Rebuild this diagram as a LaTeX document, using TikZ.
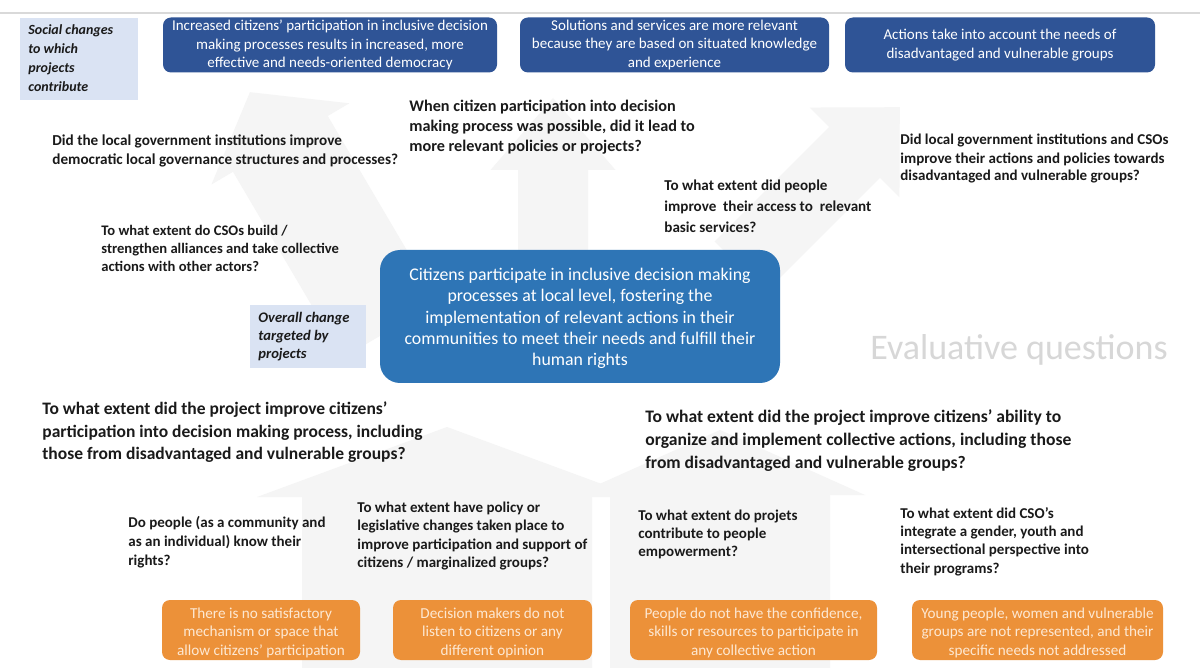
\documentclass[tikz,border=0pt]{standalone}
\usepackage{fontspec}
\setmainfont{Carlito}
\definecolor{dblue}{RGB}{47,84,150}
\definecolor{mblue}{RGB}{46,117,182}
\definecolor{lblue}{RGB}{218,227,243}
\definecolor{orng}{RGB}{236,145,57}
\definecolor{orngtxt}{RGB}{253,232,210}
\definecolor{qtxt}{RGB}{26,26,26}
\definecolor{bgarr}{RGB}{245,245,245}
\definecolor{evalgray}{RGB}{215,215,215}
\newcommand{\fs}[2]{\fontsize{#1}{#2}\selectfont}
% x, y, rotation, length, shaft width, head width, head length
\newcommand{\bgarrowshape}[7]{%
  \begin{scope}[shift={(#1,#2)},rotate=#3]
    \fill[bgarr] (-#5/2,0) -- (-#5/2,-#4+#7) -- (-#6/2,-#4+#7) -- (0,-#4)
      -- (#6/2,-#4+#7) -- (#5/2,-#4+#7) -- (#5/2,0) -- cycle;
  \end{scope}}
\tikzset{
  q/.style={anchor=west, inner sep=0pt, align=left, text=qtxt, font=\bfseries\fs{7.5}{9.3}},
  ltext/.style={anchor=west, inner sep=0pt, align=left, text=qtxt, font=\bfseries\itshape\fs{7}{9.5}},
  dbox/.style={fill=dblue, rounded corners=4pt, inner sep=0pt, align=center, text=white,
    minimum height=27.5pt, font=\fs{7.5}{9.25}},
  obox/.style={fill=orng, rounded corners=4pt, inner sep=0pt, minimum height=30pt},
  otext/.style={inner sep=0pt, align=center, text=orngtxt, font=\fs{7.6}{9.25}},
}
\begin{document}
\begin{tikzpicture}[x=0.5pt,y=-0.5pt]
\useasboundingbox[fill=white] (0,0) rectangle (1200,668);

% faint background arrows
\bgarrowshape{390}{330}{30.5}{276}{110}{160}{60}
\bgarrowshape{553}{260}{0}{162}{70}{125}{72}
\bgarrowshape{740}{267}{-45}{226}{72}{127}{64}
\bgarrowshape{447}{668}{0}{241}{290}{380}{70}
\bgarrowshape{720}{668}{0}{238}{220}{290}{65}

% top rule
\draw[black!15, line width=0.6pt] (0,13) -- (1200,13);

% label boxes
\fill[lblue] (20,18) rectangle (138,100);
\node[ltext] (lab1) at (28,58.5) {Social changes\\to which\\projects\\contribute};
\fill[lblue] (250,305) rectangle (366,368);
\node[ltext, font=\bfseries\itshape\fs{7.3}{9}] (lab2) at (258,337) {Overall change\\targeted by\\projects};

% top outcome boxes
\node[dbox, minimum width=167pt] (oa) at (330,45) {Increased citizens’ participation in inclusive decision\\making processes results in increased, more\\effective and needs-oriented democracy};
\node[dbox, minimum width=154.5pt] (ob) at (674.5,45) {Solutions and services are more relevant\\because they are based on situated knowledge\\and experience};
\node[dbox, minimum width=155pt] (oc) at (1000,45) {Actions take into account the needs of\\disadvantaged and vulnerable groups};

% center box
\node[fill=mblue, rounded corners=10pt, inner sep=0pt, minimum width=200pt, minimum height=66.5pt] (center) at (580,316.5) {};
\node[inner sep=0pt, align=center, text=white, font=\fs{8.9}{10.6}] (centertext) at (580,318.5)
  {Citizens participate in inclusive decision making\\processes at local level, fostering the\\implementation of relevant actions in their\\communities to meet their needs and fulfill their\\human rights};

% upper questions
\node[q, font=\bfseries\fs{7.6}{9.5}] (q1) at (52,150.5) {Did the local government institutions improve\\democratic local governance structures and processes?};
\node[q, font=\bfseries\fs{8.1}{10}] (q2) at (409,127) {When citizen participation into decision\\making process was possible, did it lead to\\more relevant policies or projects?};
\node[q, font=\bfseries\fs{7.5}{9}] (q3) at (900,159) {Did local government institutions and CSOs\\improve their actions and policies towards\\disadvantaged and vulnerable groups?};
\node[q, font=\bfseries\fs{7.55}{10.5}] (q4) at (664,206) {To what extent did people\\improve\ \ their access to\ \ relevant\\basic services?};
\node[q, font=\bfseries\fs{7.3}{9}] (q5) at (101,248) {To what extent do CSOs build /\\strengthen alliances and take collective\\actions with other actors?};

\node[anchor=center, inner sep=0pt, text=evalgray, font=\fs{18}{20}] (eval) at (1019,350) {Evaluative questions};

% lower questions
\node[q, font=\bfseries\fs{8.75}{11.3}] (q6) at (42,432.5) {To what extent did the project improve citizens’\\participation into decision making process, including\\those from disadvantaged and vulnerable groups?};
\node[q, font=\bfseries\fs{8.8}{11.5}] (q7) at (645,441) {To what extent did the project improve citizens’ ability to\\organize and implement collective actions, including those\\from disadvantaged and vulnerable groups?};
\node[q, font=\bfseries\fs{7.5}{9.5}] (q8) at (128,542) {Do people (as a community and\\as an individual) know their\\rights?};
\node[q, font=\bfseries\fs{7.5}{9.3}] (q9) at (357,536) {To what extent have policy or\\legislative changes taken place to\\improve participation and support of\\citizens / marginalized groups?};
\node[q, font=\bfseries\fs{7.5}{9}] (q10) at (638,534) {To what extent do projets\\contribute to people\\empowerment?};
\node[q, font=\bfseries\fs{7.5}{9.2}] (q11) at (900,541.5) {To what extent did CSO’s\\integrate a gender, youth and\\intersectional perspective into\\their programs?};

% orange problem boxes
\node[obox, minimum width=99pt] (p1) at (261,630) {};
\node[otext] (p1t) at (261,632.5) {There is no satisfactory\\mechanism or space that\\allow citizens’ participation};
\node[obox, minimum width=99.5pt] (p2) at (492.5,630) {};
\node[otext] (p2t) at (492.5,632.5) {Decision makers do not\\listen to citizens or any\\different opinion};
\node[obox, minimum width=123.5pt] (p3) at (753.5,630) {};
\node[otext] (p3t) at (753.5,632.5) {People do not have the confidence,\\skills or resources to participate in\\any collective action};
\node[obox, minimum width=125.5pt] (p4) at (1037.5,630) {};
\node[otext] (p4t) at (1037.5,632.5) {Young people, women and vulnerable\\groups are not represented, and their\\specific needs not addressed};
\end{tikzpicture}
\end{document}
